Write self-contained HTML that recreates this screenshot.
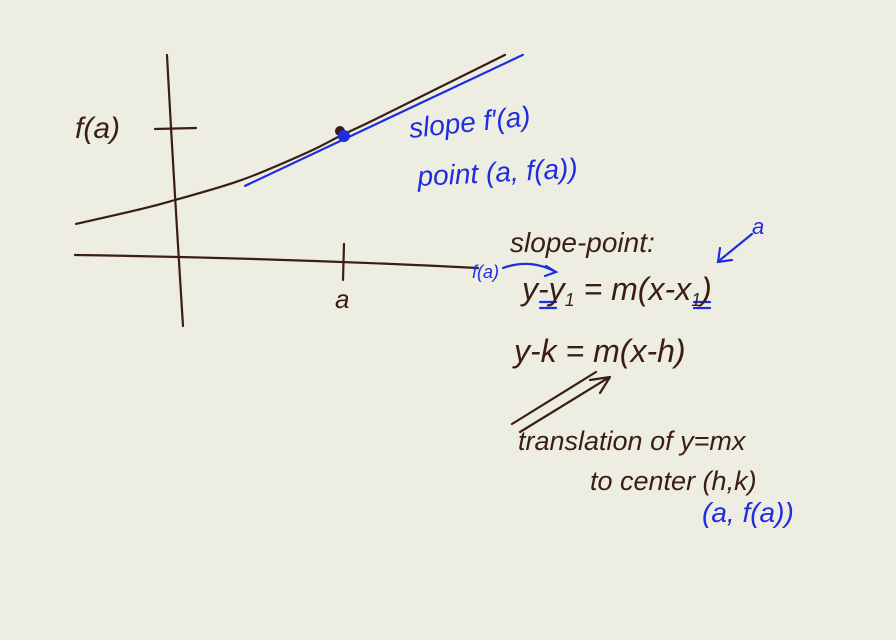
<!DOCTYPE html>
<html><head><meta charset="utf-8"><style>
html,body{margin:0;padding:0;background:#edeee1}
svg{display:block}
.d{fill:#3b1d16;font-family:"Liberation Sans",sans-serif;font-style:italic}
.b{fill:#1f2de0;font-family:"Liberation Sans",sans-serif;font-style:italic}
</style></head><body>
<svg width="896" height="640" viewBox="0 0 896 640">
<rect width="896" height="640" fill="#edeee1"/>
<g fill="none" stroke="#3b1d16" stroke-width="2.2" stroke-linecap="round" stroke-linejoin="round">
<path d="M167 55 Q172 150 183 326"/>
<path d="M75 255 Q280 258 478 268"/>
<path d="M155 129 L196 128"/>
<path d="M344 244 L343 280"/>
<path id="curve"/>
<path d="M520 432 L608 378 M590 380 L610 377 L600 393 M512 424 L596 372"/>
</g>
<g fill="none" stroke="#1f2de0" stroke-width="2.2" stroke-linecap="round">
<path id="tangent"/>
<path d="M503 268 Q530 258 556 272 M546 266 L556 272 L545 276"/>
<path d="M752 234 L720 260 M720 248 L718 262 L732 260"/>
<path d="M540 302 L556 302 M540 308 L556 308 M694 302 L710 302 M694 308 L710 308"/>
</g>
<circle id="pt-dark" r="5" fill="#3b1d16"/>
<circle id="pt-blue" r="6" fill="#1f2de0"/>
<text x="75" y="138" class="d" font-size="30">f(a)</text>
<text x="335" y="308" class="d" font-size="26">a</text>
<text x="410" y="138" class="b" font-size="28" transform="rotate(-6 410 138)">slope f′(a)</text>
<text x="418" y="186" class="b" font-size="28" transform="rotate(-3 418 186)">point (a, f(a))</text>
<text x="510" y="252" class="d" font-size="28">slope-point:</text>
<text x="752" y="234" class="b" font-size="22">a</text>
<text x="472" y="278" class="b" font-size="18">f(a)</text>
<text x="522" y="300" class="d" font-size="32">y-y<tspan font-size="18" dy="6">1</tspan><tspan dy="-6"> = m(x-x</tspan><tspan font-size="18" dy="6">1</tspan><tspan dy="-6">)</tspan></text>
<text x="514" y="362" class="d" font-size="32">y-k = m(x-h)</text>
<text x="518" y="450" class="d" font-size="27">translation of  y=mx</text>
<text x="590" y="490" class="d" font-size="27">to center (h,k)</text>
<text x="702" y="522" class="b" font-size="28">(a, f(a))</text>
</svg>
<script>
// curve sample values (data units: x across, y up)
const curveX=[-1.5,-0.5,0,1,2,2.5,3,4,5];
const curveY=[0.31,0.60,0.77,1.15,1.68,2.0,2.3,2.93,3.56];
const tangentX=[1.06,5.27];
const tangentY=[1.04,3.56];
const pointX=[2.56];
const pointY=[2.0];
function sx(x){return 175+x*66;}
function sy(y){return 240-y*52;}
function line(xs,ys){return xs.map((x,i)=>(i?'L':'M')+sx(x).toFixed(1)+' '+sy(ys[i]).toFixed(1)).join(' ');}
function smooth(xs,ys){
  const p=xs.map((x,i)=>[sx(x),sy(ys[i])]);
  let d='M'+p[0][0].toFixed(1)+' '+p[0][1].toFixed(1);
  for(let i=0;i<p.length-1;i++){
    const p0=p[Math.max(0,i-1)],p1=p[i],p2=p[i+1],p3=p[Math.min(p.length-1,i+2)];
    const c1=[p1[0]+(p2[0]-p0[0])/6,p1[1]+(p2[1]-p0[1])/6];
    const c2=[p2[0]-(p3[0]-p1[0])/6,p2[1]-(p3[1]-p1[1])/6];
    d+=' C'+c1.map(v=>v.toFixed(1)).join(' ')+' '+c2.map(v=>v.toFixed(1)).join(' ')+' '+p2.map(v=>v.toFixed(1)).join(' ');
  }
  return d;
}
document.getElementById('curve').setAttribute('d',smooth(curveX,curveY));
document.getElementById('tangent').setAttribute('d',line(tangentX,tangentY));
const pd=document.getElementById('pt-dark');pd.setAttribute('cx',sx(pointX[0])-4);pd.setAttribute('cy',sy(pointY[0])-5);
const pb=document.getElementById('pt-blue');pb.setAttribute('cx',sx(pointX[0]));pb.setAttribute('cy',sy(pointY[0]));
</script>
</body></html>
